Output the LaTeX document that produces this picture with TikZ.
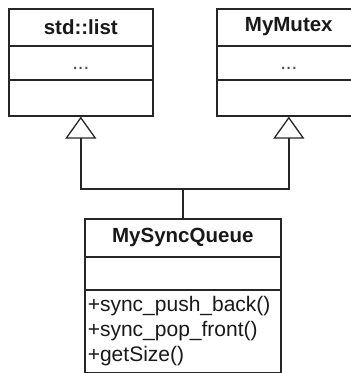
\documentclass[tikz,border=0pt]{standalone}
\usepackage{fontspec}
\setmainfont{Liberation Sans}
\usetikzlibrary{arrows.meta}
\begin{document}
\begin{tikzpicture}[x=1pt, y=-1pt, line width=1.6pt,
  classbox/.style={draw=black!85, rectangle, inner sep=0pt, fill=white},
  divider/.style={draw=black!85},
  inherit/.style={draw=black!85, -{Triangle[open, length=22pt, width=31pt, line width=1.3pt]}},
  classname/.style={font=\fontsize{20.5}{24}\selectfont\bfseries, text=black!90},
  elided/.style={font=\fontsize{20.5}{24}\selectfont, text=black!70, anchor=base},
  member/.style={font=\fontsize{21}{25}\selectfont, text=black!90, anchor=base west, inner sep=0pt}]
\useasboundingbox (0,0) rectangle (351,373);

% superclass std::list
\node[classbox, minimum width=144pt, minimum height=107pt, anchor=north west] (list) at (8,8) {};
\draw[divider] ([yshift=-38pt]list.north west) -- ([yshift=-38pt]list.north east);
\draw[divider] ([yshift=-72pt]list.north west) -- ([yshift=-72pt]list.north east);
\node[classname] (listname) at ([yshift=-19pt]list.north) {std::list};
\node[elided] (listdots) at ([yshift=-61pt]list.north) {...};

% superclass MyMutex
\node[classbox, minimum width=144pt, minimum height=107pt, anchor=north west] (mutex) at (216,8) {};
\draw[divider] ([yshift=-38pt]mutex.north west) -- ([yshift=-38pt]mutex.north east);
\draw[divider] ([yshift=-72pt]mutex.north west) -- ([yshift=-72pt]mutex.north east);
\node[classname] (mutexname) at ([yshift=-19pt]mutex.north) {MyMutex};
\node[elided] (mutexdots) at ([yshift=-61pt]mutex.north) {...};

% derived class MySyncQueue
\node[classbox, minimum width=196pt, minimum height=154pt, anchor=north west] (queue) at (84,218) {};
\draw[divider] ([yshift=-39pt]queue.north west) -- ([yshift=-39pt]queue.north east);
\draw[divider] ([yshift=-72pt]queue.north west) -- ([yshift=-72pt]queue.north east);
\node[classname] (queuename) at ([yshift=-19.5pt]queue.north) {MySyncQueue};
\node[member] (m1) at ([xshift=3pt, yshift=-93.5pt]queue.north west) {+sync\_push\_back()};
\node[member] (m2) at ([xshift=3pt, yshift=-118.5pt]queue.north west) {+sync\_pop\_front()};
\node[member] (m3) at ([xshift=3pt, yshift=-143.5pt]queue.north west) {+getSize()};

% generalisation connectors
\coordinate (junction) at ([yshift=29pt]queue.north);
\draw[divider] (queue.north) -- (junction);
\draw[inherit] (junction) -| (list.south);
\draw[inherit] (junction) -| (mutex.south);
\end{tikzpicture}
\end{document}
